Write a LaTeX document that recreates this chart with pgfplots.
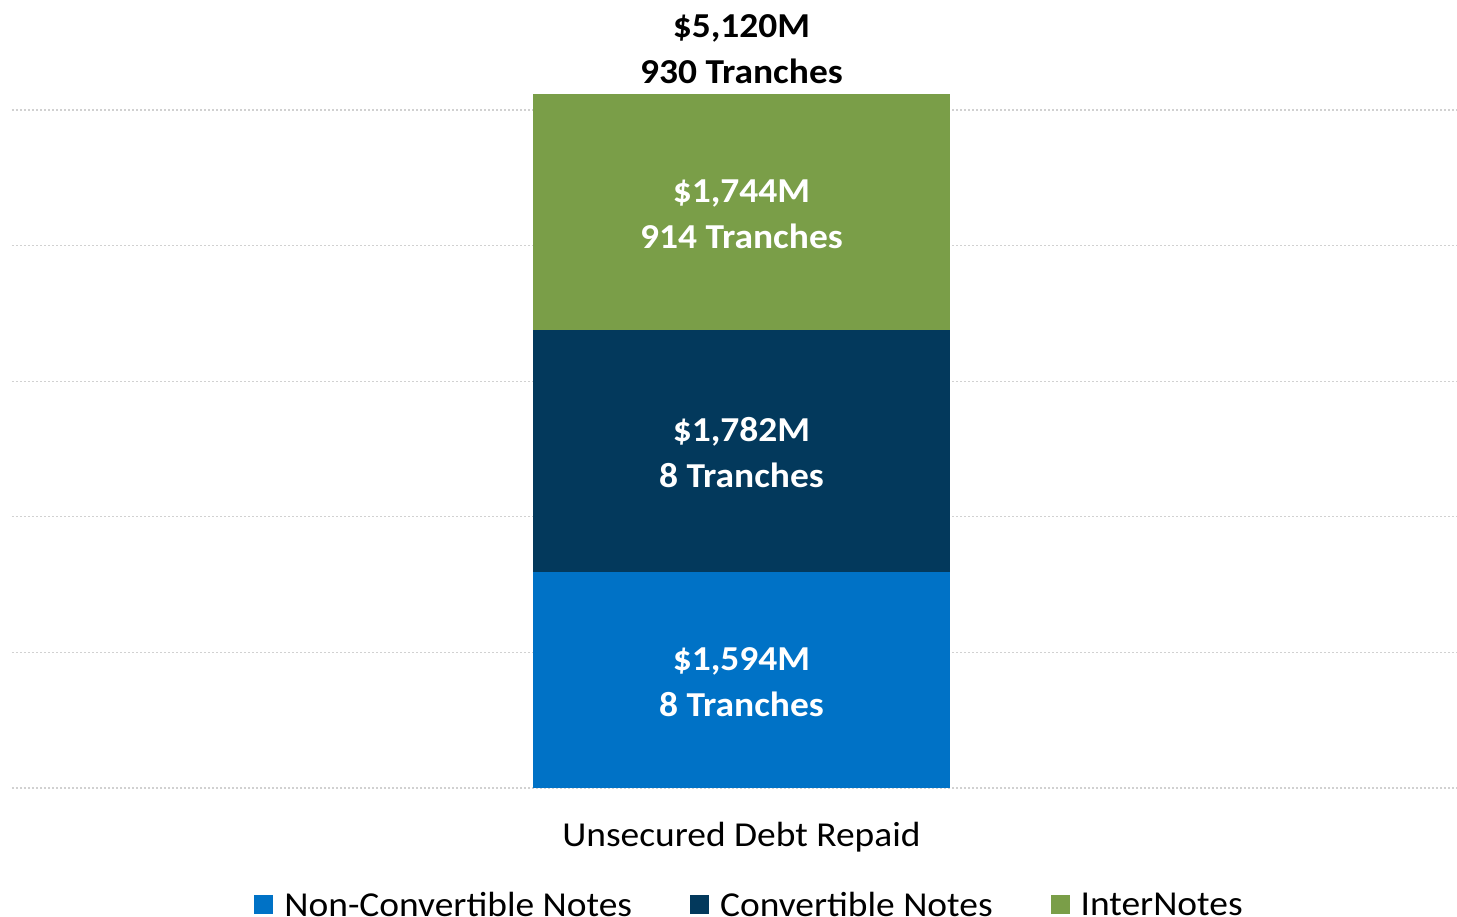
\documentclass[border=0pt]{standalone}
\usepackage{pgfplots}
\pgfplotsset{compat=1.18}
\usepackage{fontspec}
\setmainfont{Carlito}[FakeStretch=1.07]
\definecolor{cBlue}{RGB}{0,114,198}
\definecolor{cNavy}{RGB}{3,57,92}
\definecolor{cGreen}{RGB}{122,158,72}
\begin{document}
\begin{tikzpicture}
\useasboundingbox (0,0) rectangle (1457pt,917pt);
\begin{axis}[
  at={(12pt,129pt)}, anchor=south west,
  scale only axis, width=1445pt, height=678pt,
  ymin=0, ymax=5000, xmin=-0.5048, xmax=0.4952,
  clip=false,
  ybar stacked, bar width=417pt,
  axis line style={draw=none},
  ytick={0,1000,...,5000}, yticklabels={}, xtick=\empty,
  major tick length=0pt,
  ymajorgrids,
  grid style={black!18, line width=1.3pt, dash pattern=on 2pt off 2pt},
  legend columns=3,
  legend style={at={(0.5097,-0.172)}, anchor=center, draw=none, fill=none,
    font=\fontsize{35}{42}\selectfont,
    /tikz/every odd column/.append style={column sep=11pt},
    /tikz/every even column/.append style={column sep=58pt},
    nodes={inner sep=0pt}},
  legend image code/.code={\fill[#1] (0pt,-9.5pt) rectangle (19pt,9.5pt);},
]
\addplot[fill=cBlue, draw=none] coordinates {(0,1594)};
\addlegendentry{Non-Convertible Notes}
\addplot[fill=cNavy, draw=none] coordinates {(0,1782)};
\addlegendentry{Convertible Notes}
\addplot[fill=cGreen, draw=none] coordinates {(0,1744)};
\addlegendentry{InterNotes}

\coordinate (xl) at (axis cs:0,0);
\coordinate (l1) at (axis cs:0,797);
\coordinate (l2) at (axis cs:0,2485);
\coordinate (l3) at (axis cs:0,4248);
\coordinate (lt) at (axis cs:0,5120);
\end{axis}
\node[font=\fontsize{35}{42}\selectfont, anchor=base] at (xl) [yshift=-59pt] {Unsecured Debt Repaid};
\node[font=\bfseries\fontsize{35}{46}\selectfont, white, align=center] at (l1) [yshift=-2pt] {\$1,594M\\8 Tranches};
\node[font=\bfseries\fontsize{35}{46}\selectfont, white, align=center] at (l2) [yshift=-2pt] {\$1,782M\\8 Tranches};
\node[font=\bfseries\fontsize{35}{46}\selectfont, white, align=center] at (l3) [yshift=-2pt] {\$1,744M\\914 Tranches};
\node[font=\bfseries\fontsize{35}{46}\selectfont, black, align=center, anchor=south] at (lt) [yshift=6.5pt] {\$5,120M\\930 Tranches};
\end{tikzpicture}
\end{document}
